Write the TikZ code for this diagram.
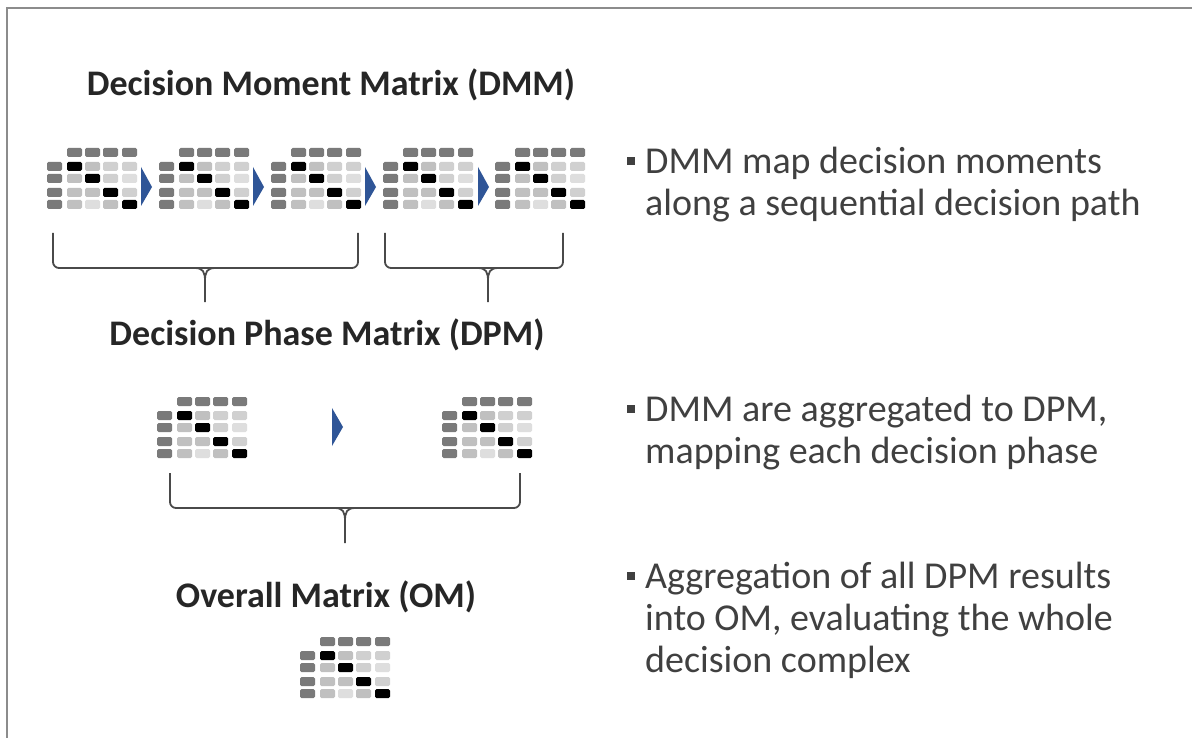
\documentclass[tikz,border=0pt]{standalone}
\usepackage{fontspec}
\setmainfont{Carlito}
\definecolor{hdr}{HTML}{7A7A7A}
\definecolor{cA}{HTML}{C0C0C0}
\definecolor{cB}{HTML}{D0D0D0}
\definecolor{cC}{HTML}{DEDEDE}
\definecolor{arrowc}{HTML}{2F5597}
\definecolor{txt}{HTML}{404040}
\definecolor{ttl}{HTML}{262626}
\definecolor{brk}{HTML}{4A4A4A}
\definecolor{frame}{HTML}{8C8C8C}
\tikzset{
  cell/.style={rounded corners=1.5pt},
  dmat/.pic={
    \foreach \cx in {20,38,56,75} \fill[hdr,cell] (\cx,0) rectangle ++(15,9);
    \foreach \ry in {14,26,40,52} \fill[hdr,cell] (0,\ry) rectangle ++(15,9);
    \foreach \cx/\ry/\g in {20/14/black,38/14/cA,56/14/cB,75/14/cB,
                            20/26/cA,38/26/black,56/26/cB,75/26/cC,
                            20/40/cA,38/40/cA,56/40/black,75/40/cB,
                            20/52/cA,38/52/cC,56/52/cA,75/52/black}
      \fill[\g,cell] (\cx,\ry) rectangle ++(15,9);
  },
  ttlstyle/.style={font=\fontsize{36}{40}\selectfont\bfseries, text=ttl, inner sep=0pt, anchor=base},
  bullettext/.style={font=\fontsize{38}{43}\selectfont, text=txt, inner sep=0pt, anchor=base west},
  bulletsq/.style={fill=txt, minimum size=8.5pt, inner sep=0pt},
  brace/.style={draw=brk, line width=1.8pt, rounded corners=6pt},
  stem/.style={draw=brk, line width=1.8pt},
  chev/.style={fill=arrowc}
}
\begin{document}
\begin{tikzpicture}[x=1pt,y=-1pt]
\useasboundingbox (0,0) rectangle (1192,738);
\fill[white] (0,0) rectangle (1192,738);
% frame
\draw[frame, line width=2pt] (7,738) -- (7,8) -- (1192,8);

% titles
\node[ttlstyle] (tdmm) at (331,96) {Decision Moment Matrix (DMM)};
\node[ttlstyle] (tdpm) at (327,345) {Decision Phase Matrix (DPM)};
\node[ttlstyle] (tom) at (326,607) {Overall Matrix (OM)};

% DMM icons
\pic (m1) at (47,148) {dmat};
\pic (m2) at (159,148) {dmat};
\pic (m3) at (271,148) {dmat};
\pic (m4) at (383,148) {dmat};
\pic (m5) at (495,148) {dmat};
\foreach \ax in {141,253,365,478}
  \fill[chev] (\ax,167) -- (\ax+11,187) -- (\ax,206) -- cycle;

% brackets top
\path[brace] (53,233) -- (53,268) -- (358,268) -- (358,233);
\path[stem] (195,268) .. controls (203,268) and (205,272) .. (205,281) -- (205,302);
\path[stem] (215,268) .. controls (207,268) and (205,272) .. (205,281);
\path[brace] (385,233) -- (385,268) -- (563,268) -- (563,233);
\path[stem] (478,268) .. controls (486,268) and (488,272) .. (488,281) -- (488,302);
\path[stem] (498,268) .. controls (490,268) and (488,272) .. (488,281);

% DPM icons
\pic (p1) at (157,397) {dmat};
\pic (p2) at (442,397) {dmat};
\fill[chev] (332,408) -- (343,427) -- (332,446) -- cycle;

% bracket bottom
\path[brace] (170,473) -- (170,508) -- (520,508) -- (520,473);
\path[stem] (335,508) .. controls (343,508) and (345,512) .. (345,521) -- (345,543);
\path[stem] (355,508) .. controls (347,508) and (345,512) .. (345,521);

% OM icon
\pic (o1) at (300,637) {dmat};

% bullets
\node[bulletsq] (b1) at (631,161) {};
\node[bullettext] (t1a) at (645,174) {DMM map decision moments};
\node[bullettext] (t1b) at (645,216) {along a sequential decision path};
\node[bulletsq] (b2) at (631,409) {};
\node[bullettext] (t2a) at (645,421) {DMM are aggregated to DPM,};
\node[bullettext] (t2b) at (645,463) {mapping each decision phase};
\node[bulletsq] (b3) at (631,576) {};
\node[bullettext] (t3a) at (645,588) {Aggregation of all DPM results};
\node[bullettext] (t3b) at (645,630) {into OM, evaluating the whole};
\node[bullettext] (t3c) at (645,672) {decision complex};
\end{tikzpicture}
\end{document}
